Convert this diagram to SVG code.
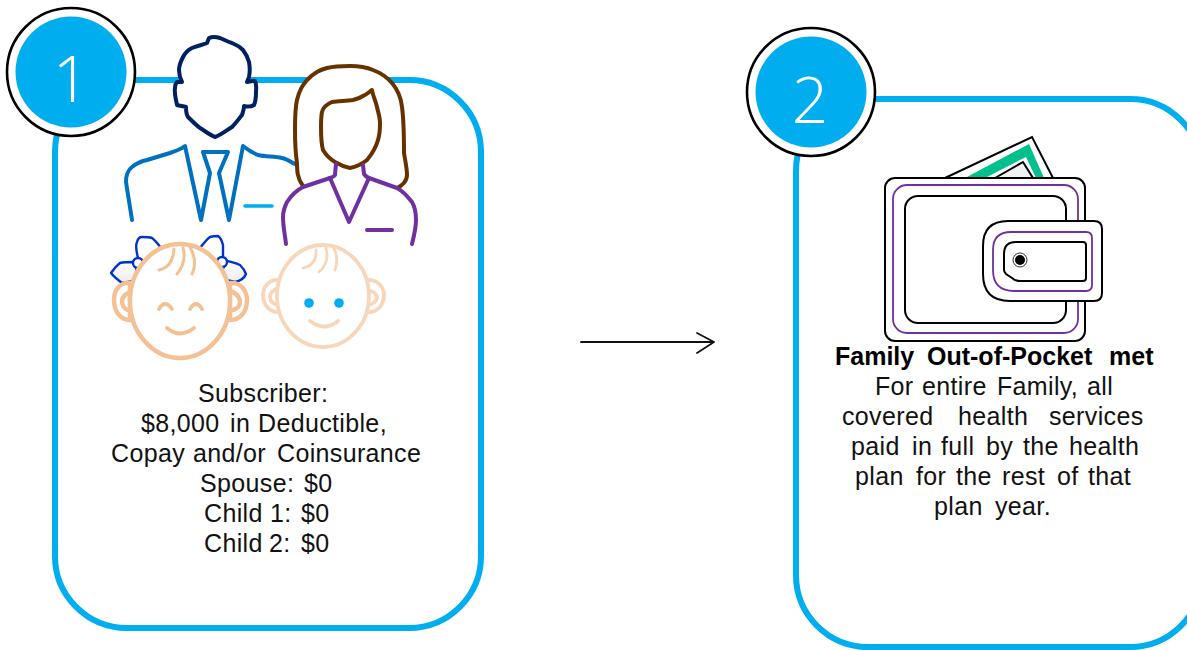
<svg xmlns="http://www.w3.org/2000/svg" width="1187" height="650" viewBox="0 0 1187 650">
<style>
.card{fill:none;stroke:#00aeef;stroke-width:6}
.ring{fill:#fff;stroke:#000;stroke-width:2.6}
.disc{fill:#00aeef}
.num{font-family:"Open Sans","Noto Sans",sans-serif;font-weight:300;font-size:64px;fill:#fff;text-anchor:middle}
.t{font-family:"Liberation Sans",Arial,sans-serif;font-size:25px;letter-spacing:.35px;fill:#111}
.b{font-weight:700;fill:#000;letter-spacing:0}
.s{fill:none;stroke-linecap:round;stroke-linejoin:round}
.navy{stroke:#002060;stroke-width:4}
.suit{stroke:#0070c0;stroke-width:4}
.cyan{stroke:#00aeef;stroke-width:3.6}
.brown{stroke:#663300;stroke-width:4}
.purple{stroke:#7030a0;stroke-width:4}
.peach{stroke:#f4c195;stroke-width:4.4}
.lpeach{stroke:#f8d6b9;stroke-width:3.8}
.bow{stroke:#0033cc;stroke-width:2.4}
.w{fill:none;stroke:#000;stroke-width:2}
.wp{fill:none;stroke:#7030a0;stroke-width:1.8}
</style>
<defs>
<linearGradient id="bowfill" x1="0" y1="0" x2="0" y2="1"><stop offset="0" stop-color="#fff"/><stop offset="1" stop-color="#ececec"/></linearGradient>
</defs>

<g id="connectors">
<path class="s" d="M581,342 L714,342 M697,333 L714,342 L697,353" stroke="#111" stroke-width="1.8"/>
</g>

<g id="card-1">
<rect class="card" x="55" y="80" width="426" height="548" rx="72" ry="72"/>
<circle class="ring" cx="71" cy="72" r="64"/>
<circle class="disc" cx="71" cy="72" r="55.5"/>
<text class="num" x="71" y="102">1</text>
</g>

<g id="man">
<path class="s navy" style="fill:#fff" d="M207,43 L209,38 C213,36 217,37 220,38 C225,40 228,42 232,43 C237,45 240,47 243,50 C246,54 248,58 249,62 C250,67 250,72 249,77 L247,82 C250,82 253,80 255,81 C257,85 256,89 256,92 C256,96 256,101 254,105 C251,107 248,107 244,106 C244,109 243,112 242,115 C238,120 236,123 232,127 C227,130 221,135 215,137 C210,135 205,131 200,128 C196,125 192,121 188,117 C186,114 186,110 186,107 C183,106 180,106 177,105 C176,99 174,94 175,88 C175,85 176,83 177,82 L182,82 C180,78 179,74 179,70 C179,65 181,61 183,57 C185,53 188,50 192,48 C197,46 202,45 207,43 Z"/>
<path class="s suit" d="M132,220 L126,182 C126,174 128,170 132,167 C137,163 142,161 147,160 L170,153 C176,151 181,149 185,146 L201,220 L210,173 L203,152 L228,152 L219,173 L229,220 L243,146 C248,150 253,153 258,155 C266,157 274,156 282,158 C287,159 291,162 295,164"/>
<path class="s cyan" d="M245,206 L272,206"/>
</g>

<g id="woman">
<path class="s brown" style="fill:#fff" d="M303,186 C297,178 297,170 297,163 C295,150 295,140 295,130 C295,115 295,108 297,100 C300,88 303,85 307,80 C315,72 320,70 327,68 C335,66 342,66 350,66 C358,66 366,67 373,70 C381,73 387,77 392,83 C398,90 401,98 402,107 C404,122 404,138 404,153 C405,160 407,168 407,175 C407,181 402,186 397,188"/>
<path class="s brown" d="M372,90 C369,92 366,95 363,96 C360,98 357,99 353,100 C346,101 339,101 332,102 C327,104 323,108 322,112 C321,117 321,122 321,127 C321,135 321,143 323,150 C326,155 330,159 335,162 C340,165 345,167 350,168 C356,167 362,164 367,160 C372,154 376,147 378,140 C380,134 380,129 380,123 C380,117 378,112 377,107 C376,102 373,96 372,90 Z"/>
<path class="s purple" style="fill:#fff" d="M286,244 C285,235 283,226 283,217 C283,211 285,206 287,202 C291,196 297,190 303,187 L330,178 C333,177 336,175 335,174 L336,164 M363,165 L364,174 C365,176 367,177 369,178 L397,188 C403,191 408,197 412,202 C415,207 416,213 416,220 C416,228 414,236 412,244"/>
<path class="s purple" d="M330,178 L349,222 L369,178"/>
<path class="s purple" d="M367,230 L392,230"/>
</g>

<g id="girl">
<path class="s bow" style="fill:#fff" d="M138,258 C136,250 136,244 137,242 C138,238 140,237 142,237 C146,237 149,237 152,238 C155,240 158,244 161,248"/>
<path class="s bow" style="fill:#fff" d="M200,248 C204,243 207,239 210,237 C213,236 216,236 218,236 C221,238 222,241 223,245 C223,250 223,254 223,258"/>
<path class="s bow" style="fill:url(#bowfill)" d="M134,262 C128,262 124,262 120,263 C116,266 113,270 111,273 C114,277 118,280 122,283 L140,280 Z"/>
<path class="s bow" style="fill:url(#bowfill)" d="M227,261 C232,262 236,263 240,265 C243,268 245,271 246,274 C244,279 240,281 235,282 L218,278 Z"/>
<circle class="bow" style="fill:#fff" cx="138" cy="263" r="5"/>
<circle class="bow" style="fill:#fff" cx="222" cy="262" r="5"/>
<path class="s peach" style="fill:#fff" d="M130,283 C119,282 114,291 114,300 C114,311 120,320 130,320 Z"/>
<path class="s peach" d="M128,293 C124,295 122,299 122,302 C122,306 125,309 128,310"/>
<path class="s peach" style="fill:#fff" d="M230,283 C241,282 247,291 247,300 C247,311 241,320 230,320 Z"/>
<path class="s peach" d="M233,292 C238,295 240,299 240,302 C240,306 237,309 233,310"/>
<ellipse class="s peach" style="fill:#fff" cx="180" cy="301" rx="50" ry="57"/>
<path class="s peach" style="stroke-width:3" d="M159,270 Q173,267 174,249 M177,274 Q187,262 183,248 M192,274 Q198,262 190,247"/>
<path class="s peach" style="stroke-width:3.8" d="M159,309 Q165,299 172,309 M190,309 Q196,299 202,309 M167,328 Q180,339 194,328"/>
</g>

<g id="boy">
<path class="s lpeach" style="fill:#fff" d="M279,280 C269,279 263,287 263,295 C263,305 270,313 280,312 Z"/>
<path class="s lpeach" d="M278,288 C273,290 270,293 270,297 C270,301 273,304 278,305"/>
<path class="s lpeach" style="fill:#fff" d="M367,280 C377,279 384,287 384,295 C384,305 377,313 367,312 Z"/>
<path class="s lpeach" d="M368,290 C373,291 377,294 377,297 C377,301 373,304 368,305"/>
<ellipse class="s lpeach" style="fill:#fff" cx="323" cy="296" rx="46" ry="51"/>
<path class="s lpeach" style="stroke-width:2.8" d="M303,268 Q317,265 316,250 M319,272 Q330,262 326,248 M335,270 Q339,258 334,249"/>
<circle cx="309" cy="303" r="4.8" fill="#00aeef"/>
<circle cx="339" cy="303" r="4.8" fill="#00aeef"/>
<path class="s lpeach" d="M310,321 Q325,332 338,321"/>
</g>

<g id="card-2">
<rect class="card" x="796" y="99" width="406" height="548" rx="72" ry="72"/>
<circle class="ring" cx="811" cy="92" r="64"/>
<circle class="disc" cx="811" cy="92" r="55.5"/>
<text class="num" x="810" y="123">2</text>
</g>

<g id="wallet">
<path d="M945,178 L1032,137 L1053,178 Z" fill="#fff" stroke="#000" stroke-width="2"/>
<path d="M965,178 L1029,144 L1044,178 L1036,178 L1026,157 L985,178 Z" fill="#00c08b"/>
<path d="M995,178 L1023,162 L1033,178 Z" fill="#f2f2f2" stroke="#000" stroke-width="2"/>
<rect x="885" y="178" width="200" height="163" rx="10" fill="#fff" stroke="#000" stroke-width="2"/>
<rect class="wp" x="893" y="185" width="185" height="148" rx="14"/>
<rect class="w" x="905" y="196" width="161" height="127" rx="13"/>
<path d="M1008,221 L1094,221 Q1102,221 1102,229 L1102,293 Q1102,301 1094,301 L1010,301 Q983,301 983,274 L983,246 Q983,221 1008,221 Z" fill="#fff" stroke="#000" stroke-width="2"/>
<path class="wp" d="M1011,232 L1086,232 Q1092,232 1092,238 L1092,285 Q1092,291 1086,291 L1014,291 Q993,291 993,270 L993,250 Q993,232 1011,232 Z"/>
<path class="w" d="M1016,242 L1083,242 Q1086,242 1086,245 L1086,278 Q1086,281 1083,281 L1020,281 Q1015,281 1012,278 L1006,274 Q1004,272 1004,270 L1004,254 Q1004,242 1016,242 Z"/>
<circle cx="1020" cy="260" r="7" fill="#fff" stroke="#000" stroke-width="0.8"/>
<circle cx="1020" cy="260" r="5" fill="#000"/>
</g>

<g id="text-1">
<text class="t" y="402"><tspan x="198">Subscriber:</tspan></text>
<text class="t" y="432"><tspan x="141">$8,000</tspan><tspan x="230">in</tspan><tspan x="258">Deductible,</tspan></text>
<text class="t" y="462"><tspan x="111">Copay</tspan><tspan x="193">and/or</tspan><tspan x="277">Coinsurance</tspan></text>
<text class="t" y="492"><tspan x="200">Spouse:</tspan><tspan x="304">$0</tspan></text>
<text class="t" y="522"><tspan x="204">Child</tspan><tspan x="270">1:</tspan><tspan x="301">$0</tspan></text>
<text class="t" y="552"><tspan x="204">Child</tspan><tspan x="269">2:</tspan><tspan x="301">$0</tspan></text>
</g>

<g id="text-2">
<text class="t b" y="365"><tspan x="835">Family</tspan><tspan x="927">Out-of-Pocket</tspan><tspan x="1109">met</tspan></text>
<text class="t" y="395"><tspan x="875">For</tspan><tspan x="922">entire</tspan><tspan x="997">Family,</tspan><tspan x="1087">all</tspan></text>
<text class="t" y="425"><tspan x="842">covered</tspan><tspan x="958">health</tspan><tspan x="1049">services</tspan></text>
<text class="t" y="455"><tspan x="851">paid</tspan><tspan x="912">in</tspan><tspan x="941">full</tspan><tspan x="986">by</tspan><tspan x="1023">the</tspan><tspan x="1069">health</tspan></text>
<text class="t" y="485"><tspan x="855">plan</tspan><tspan x="916">for</tspan><tspan x="956">the</tspan><tspan x="1002">rest</tspan><tspan x="1057">of</tspan><tspan x="1088">that</tspan></text>
<text class="t" y="515"><tspan x="934">plan</tspan><tspan x="995">year.</tspan></text>
</g>
</svg>
